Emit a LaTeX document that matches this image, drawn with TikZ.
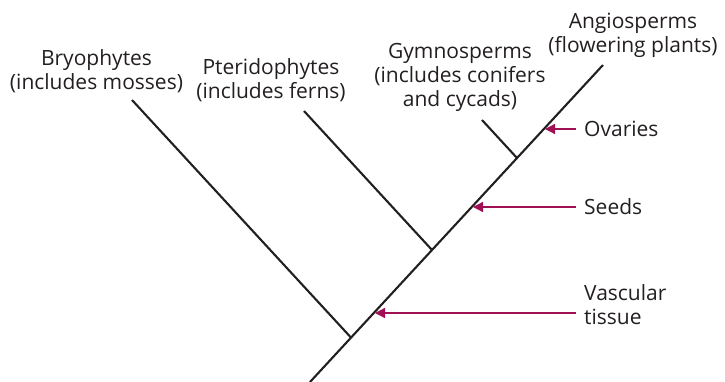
\documentclass[tikz,border=0pt]{standalone}
\usepackage{fontspec}
\setmainfont{Open Sans}
\usetikzlibrary{arrows.meta}
\definecolor{linegray}{HTML}{231F20}
\definecolor{arrowred}{RGB}{160,16,85}
\tikzset{
  branch/.style={draw=linegray, line width=2.1pt},
  trait/.style={draw=arrowred, line width=1.3pt, -{Triangle[length=10pt,width=10pt]}},
  taxon/.style={align=center, inner sep=0pt, font=\fontsize{21}{24}\selectfont, text=linegray},
  traitlbl/.style={align=left, anchor=west, inner sep=0pt, font=\fontsize{21}{24}\selectfont, text=linegray},
}
\begin{document}
\begin{tikzpicture}[x=1pt,y=-1pt]
\useasboundingbox (0,0) rectangle (725,382);
% main line
\coordinate (root) at (310,382);
\coordinate (top) at (603,65);
\coordinate (j1) at (351,337.6);
\coordinate (j2) at (432,250);
\coordinate (j3) at (517,158);
\coordinate (b1) at (132,100);
\coordinate (b2) at (304,111);
\coordinate (b3) at (482,120);
\draw[branch] (root) -- (top);
\draw[branch] (b1) -- (j1);
\draw[branch] (b2) -- (j2);
\draw[branch] (b3) -- (j3);
% taxa
\node[taxon] (bryo) at (96.5,71.5) {Bryophytes\\(includes mosses)};
\node[taxon] (pter) at (271,80.5) {Pteridophytes\\(includes ferns)};
\node[taxon] (gymn) at (460,77.5) {Gymnosperms\\(includes conifers\\and cycads)};
\node[taxon] (angi) at (633,35.5) {Angiosperms\\(flowering plants)};
% traits
\coordinate (tO) at (545,129);
\coordinate (tS) at (473,207);
\coordinate (tV) at (375,313);
\node[traitlbl] (ova) at (584,129) {Ovaries};
\node[traitlbl] (see) at (584,207) {Seeds};
\node[traitlbl] (vas) at (584,305) {Vascular\\tissue};
\draw[trait] ([xshift=-8pt]ova.west |- tO) -- (tO);
\draw[trait] ([xshift=-8pt]see.west |- tS) -- (tS);
\draw[trait] ([xshift=-8pt]vas.west |- tV) -- (tV);
\end{tikzpicture}
\end{document}
